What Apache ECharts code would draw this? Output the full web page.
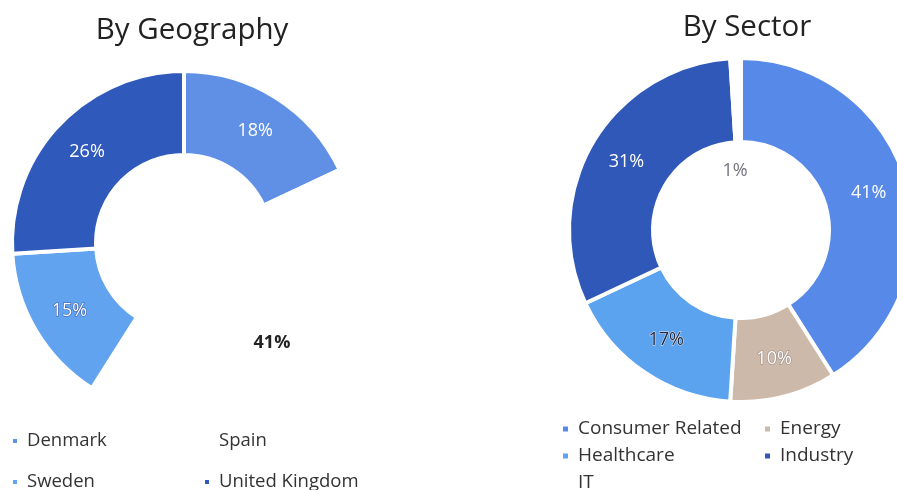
<!DOCTYPE html>
<html>
<head>
<meta charset="utf-8">
<script src="https://cdn.jsdelivr.net/npm/echarts@6/dist/echarts.min.js"></script>
<style>
html,body{margin:0;padding:0;background:#fff;}
#c{width:897px;height:490px;}
</style>
</head>
<body>
<div id="c"></div>
<script>
const geoCategories = ['Denmark', 'Spain', 'Sweden', 'United Kingdom'];
const geoValues = [18, 41, 15, 26];
const geoColors = ['#5f90e6', '#ffffff', '#61a3ef', '#2f59ba'];

const sectorCategories = ['Consumer Related', 'Energy', 'Healthcare', 'Industry', 'IT'];
const sectorValues = [41, 10, 17, 31, 1];
const sectorColors = ['#5689e8', '#cdb9aa', '#5ba2ef', '#2f58b8', '#ffffff'];

const FONT = 'Open Sans';

const geoLabelStyles = [
  {color: '#ffffff'},
  {color: '#222222', fontWeight: 'bold'},
  {color: '#ffffff', textBorderColor: '#3a5fb0', textBorderWidth: 1.2},
  {color: '#ffffff'}
];
const sectorLabelStyles = [
  {color: '#ffffff'},
  {color: '#ffffff', textBorderColor: '#9a8a80', textBorderWidth: 1.2},
  {color: '#2a2a3a', textBorderColor: '#dfe9fb', textBorderWidth: 1},
  {color: '#ffffff'},
  {position: 'center', formatter: '{t|{c}%}{p|}\n{s|}',
   rich: {t: {color: '#76737f', fontFamily: FONT, fontSize: 18},
          p: {width: 12, height: 20},
          s: {height: 118}}}
];

function buildData(cats, vals, cols, labels) {
  return cats.map((n, i) => ({
    name: n,
    value: vals[i],
    itemStyle: {color: cols[i]},
    label: labels[i]
  }));
}

const chart = echarts.init(document.getElementById('c'), null, {renderer: 'canvas'});

function legendCol(items, left, top, size, iconSize, lineH, gap) {
  return {
    data: items, left: left, top: top, height: 120, width: 200, orient: 'vertical', padding: 0,
    icon: 'rect', itemWidth: iconSize, itemHeight: iconSize, itemGap: gap, selectedMode: false,
    textStyle: {fontFamily: FONT, fontSize: size, color: '#333', lineHeight: lineH, padding: [0, 0, 0, 4]}
  };
}

chart.setOption({
  backgroundColor: '#ffffff',
  animation: false,
  title: [
    {text: 'By Geography', left: 187, top: 11, textAlign: 'center',
     textStyle: {fontFamily: FONT, fontSize: 29.5, fontWeight: 'normal', color: '#222'}},
    {text: 'By Sector', left: 742, top: 8, textAlign: 'center',
     textStyle: {fontFamily: FONT, fontSize: 29.5, fontWeight: 'normal', color: '#222'}}
  ],
  legend: [
    legendCol([geoCategories[0], geoCategories[2]], 11, 429, 18.5, 6, 24, 17),
    legendCol([geoCategories[1], geoCategories[3]], 203, 429, 18.5, 6, 24, 17),
    legendCol([sectorCategories[0], sectorCategories[2], sectorCategories[4]], 561, 418, 19, 7, 22, 5),
    legendCol([sectorCategories[1], sectorCategories[3]], 763, 418, 19, 7, 22, 5)
  ],
  series: [
    {
      type: 'pie',
      center: [184, 243],
      radius: [88, 172],
      startAngle: 90,
      clockwise: true,
      avoidLabelOverlap: false,
      itemStyle: {borderColor: '#ffffff', borderWidth: 4},
      label: {show: true, position: 'inside', formatter: '{c}%', fontFamily: FONT, fontSize: 18},
      labelLine: {show: false},
      emphasis: {disabled: true},
      data: buildData(geoCategories, geoValues, geoColors, geoLabelStyles)
    },
    {
      type: 'pie',
      center: [741, 230],
      radius: [88, 172],
      startAngle: 90,
      clockwise: true,
      avoidLabelOverlap: false,
      itemStyle: {borderColor: '#ffffff', borderWidth: 4},
      label: {show: true, position: 'inside', formatter: '{c}%', fontFamily: FONT, fontSize: 18},
      labelLine: {show: false},
      emphasis: {disabled: true},
      data: buildData(sectorCategories, sectorValues, sectorColors, sectorLabelStyles)
    }
  ]
});
</script>
</body>
</html>
